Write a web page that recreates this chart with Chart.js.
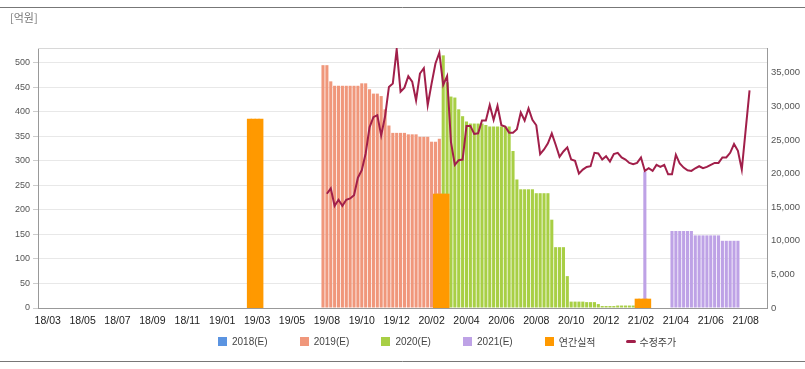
<!DOCTYPE html>
<html>
<head>
<meta charset="utf-8">
<script src="https://cdn.jsdelivr.net/npm/chart.js@4.4.1/dist/chart.umd.min.js"></script>
<style>
  html, body { margin: 0; padding: 0; background: #fff; }
  #wrap { position: relative; width: 805px; height: 369px; overflow: hidden; }
  #chart { position: absolute; left: 0; top: 0; }
  #legend { position: absolute; left: 218px; top: 334px; display: flex;
            font: 10px "Liberation Sans", "Noto Sans CJK KR", sans-serif; color: #444; }
  #legend .item { width: 81.7px; height: 14px; display: flex; align-items: center; white-space: nowrap; }
  #legend .box { width: 9px; height: 9px; margin-right: 5px; }
  #legend .line { width: 10px; height: 3px; border-radius: 2px; margin-right: 3px; }
</style>
</head>
<body>
<div id="wrap">
  <canvas id="chart" width="805" height="369"></canvas>
  <div id="legend"></div>
</div>
<script>
// weekly categories, first week 2018-03-02
const firstWeek = Date.UTC(2018, 2, 2);
const weekCount = 188;

// x tick labels, one every 9 weeks starting at week 2
const tickLabels = ["18/03", "18/05", "18/07", "18/09", "18/11", "19/01", "19/03", "19/05",
  "19/08", "19/10", "19/12", "20/02", "20/04", "20/06", "20/08", "20/10", "20/12",
  "21/02", "21/04", "21/06", "21/08"];
const tickStart = 2;
const tickEvery = 9;

// y tick values
const estTicks = [0, 50, 100, 150, 200, 250, 300, 350, 400, 450, 500];
const priceTicks = [0, 5000, 10000, 15000, 20000, 25000, 30000, 35000];

// consensus estimates (억원), each series starts at a week index
const est2018Start = 0;
const est2018 = [];

const est2019Start = 73;
const est2019 = [495, 495, 462, 453, 453, 453, 453, 453, 453, 453, 458, 458, 446, 437, 437, 432,
  405, 372, 357, 357, 357, 357, 354, 354, 354, 349, 349, 349, 339, 339, 345];

const est2020Start = 104;
const est2020 = [515, 460, 431, 429, 405, 391, 380, 376, 376, 376, 376, 373, 370, 370, 370, 370,
  370, 370, 320, 262, 242, 242, 242, 242, 234, 234, 234, 234, 180, 124, 124, 124, 65,
  13, 13, 13, 13, 12, 12, 12, 8, 4, 4, 4, 4, 5, 5, 5, 5, 5, 5, 5];

const est2021Start = 156;
const est2021 = [278, null, null, null, null, null, null, 157, 157, 157, 157, 157, 157,
  148, 148, 148, 148, 148, 148, 148, 137, 137, 137, 137, 137];

// annual actuals (억원), each spans 4 weeks
const annualStarts = [54, 102, 154];
const annualValues = [385, 232, 18];
const annualWeeks = 4;

// adjusted price (원)
const priceStart = 74;
const price = [17000, 17800, 15200, 16100, 15200, 16100, 16300, 16800, 19400, 20500,
  23000, 26900, 28400, 28700, 25700, 28500, 32900, 33400, 38500, 32200,
  32800, 34500, 33700, 30900, 34900, 35700, 30200, 33400, 36400, 38000,
  33200, 34500, 24700, 21300, 22000, 22100, 27100, 27100, 25900, 26000,
  27900, 27900, 30200, 28000, 30100, 27200, 27000, 26100, 26100, 26600,
  29100, 27900, 29700, 28000, 27200, 22900, 23600, 24500, 26000, 24300,
  22500, 23300, 23900, 22100, 21900, 20000, 20600, 21000, 21100, 23100,
  23000, 22100, 22600, 21800, 22900, 23100, 22400, 22100, 21600, 21400,
  21600, 22400, 20400, 20800, 20400, 21300, 21000, 21300, 19900, 19900,
  22800, 21500, 20900, 20500, 20400, 20800, 21100, 20800, 21000, 21300,
  21600, 21600, 22400, 22400, 23100, 24400, 23400, 20600, 26500, 32400];

const seriesNames = ["2018(E)", "2019(E)", "2020(E)", "2021(E)", "연간실적", "수정주가"];
const seriesColors = ["#5b94e1", "#f0977b", "#a8cf45", "#bea2e6", "#ff9900", "#a11f4a"];

const weeks = [];
for (let i = 0; i < weekCount; i++) {
  const d = new Date(firstWeek + i * 7 * 86400000);
  weeks.push(d.toISOString().slice(2, 10));
}

function place(start, values) {
  const arr = new Array(weekCount).fill(null);
  values.forEach((v, k) => { arr[start + k] = v; });
  return arr;
}

const annual = new Array(weekCount).fill(null);
annualStarts.forEach((s, k) => {
  for (let w = 0; w < annualWeeks; w++) annual[s + w] = annualValues[k];
});

const font = "'Liberation Sans', 'Noto Sans CJK KR', sans-serif";

function estBar(k, data) {
  return {
    type: "bar", label: seriesNames[k], data: data, yAxisID: "y",
    backgroundColor: seriesColors[k], grouped: false, order: 2,
    categoryPercentage: 0.8, barPercentage: 1, inflateAmount: 0, borderWidth: 0
  };
}

const frame = {
  id: "frame",
  beforeDraw(chart) {
    const ctx = chart.ctx;
    ctx.save();
    ctx.fillStyle = "#fff";
    ctx.fillRect(0, 0, chart.width, chart.height);
    ctx.strokeStyle = "#777";
    ctx.lineWidth = 1;
    ctx.beginPath();
    ctx.moveTo(0, 7.5); ctx.lineTo(chart.width, 7.5);
    ctx.moveTo(0, 361.5); ctx.lineTo(chart.width, 361.5);
    ctx.stroke();
    ctx.fillStyle = "#777";
    ctx.font = "11px 'Noto Sans CJK KR', sans-serif";
    ctx.textBaseline = "middle";
    ctx.fillText("[억원]", 10, 18);
    ctx.restore();
  },
  beforeDatasetsDraw(chart) {
    const ctx = chart.ctx;
    const a = chart.chartArea;
    ctx.save();
    ctx.strokeStyle = "#d8d8d8";
    ctx.beginPath();
    ctx.moveTo(a.left, Math.round(a.top) + 0.5);
    ctx.lineTo(a.right, Math.round(a.top) + 0.5);
    ctx.stroke();
    ctx.restore();
  }
};

new Chart(document.getElementById("chart"), {
  data: {
    labels: weeks,
    datasets: [
      estBar(0, place(est2018Start, est2018)),
      estBar(1, place(est2019Start, est2019)),
      estBar(2, place(est2020Start, est2020)),
      estBar(3, place(est2021Start, est2021)),
      {
        type: "bar", label: seriesNames[4], data: annual, yAxisID: "y",
        backgroundColor: seriesColors[4], grouped: false, order: 1,
        categoryPercentage: 1, barPercentage: 1, inflateAmount: 0.5, borderWidth: 0
      },
      {
        type: "line", label: seriesNames[5], data: place(priceStart, price), yAxisID: "y1",
        borderColor: seriesColors[5], borderWidth: 2, pointRadius: 0, tension: 0, order: 0
      }
    ]
  },
  options: {
    responsive: false,
    devicePixelRatio: 1,
    animation: false,
    layout: { padding: { top: 48, bottom: 31, left: 0, right: 0 } },
    plugins: { legend: { display: false }, tooltip: { enabled: false } },
    scales: {
      x: {
        grid: { display: false, drawTicks: false },
        border: { display: true, color: "#999" },
        ticks: {
          autoSkip: false, maxRotation: 0, padding: 7, color: "#222",
          font: { size: 10.5, family: font },
          callback: (v, i) => (i >= tickStart && (i - tickStart) % tickEvery === 0)
            ? (tickLabels[(i - tickStart) / tickEvery] || "") : ""
        },
        afterFit: (s) => { s.height = 30; }
      },
      y: {
        position: "left", min: 0, max: 530,
        ticks: { padding: 3, color: "#555", font: { size: 9, family: font } },
        afterBuildTicks: (s) => { s.ticks = estTicks.map(v => ({ value: v })); },
        grid: { color: "#e8e8e8", tickColor: "#ccc", tickLength: 5 },
        border: { color: "#999" },
        afterFit: (s) => { s.width = 38; }
      },
      y1: {
        position: "right", min: 0, max: 38700,
        ticks: { padding: 4, color: "#555", font: { size: 9.5, family: font } },
        afterBuildTicks: (s) => { s.ticks = priceTicks.map(v => ({ value: v })); },
        grid: { drawOnChartArea: false, drawTicks: false },
        border: { color: "#999" },
        afterFit: (s) => { s.width = 38; }
      }
    }
  },
  plugins: [frame]
});

// legend
const legend = document.getElementById("legend");
seriesNames.forEach((name, k) => {
  const item = document.createElement("div");
  item.className = "item";
  const mark = document.createElement("span");
  mark.className = k === 5 ? "line" : "box";
  mark.style.background = seriesColors[k];
  const text = document.createElement("span");
  text.textContent = name;
  item.appendChild(mark);
  item.appendChild(text);
  legend.appendChild(item);
});
</script>
</body>
</html>
